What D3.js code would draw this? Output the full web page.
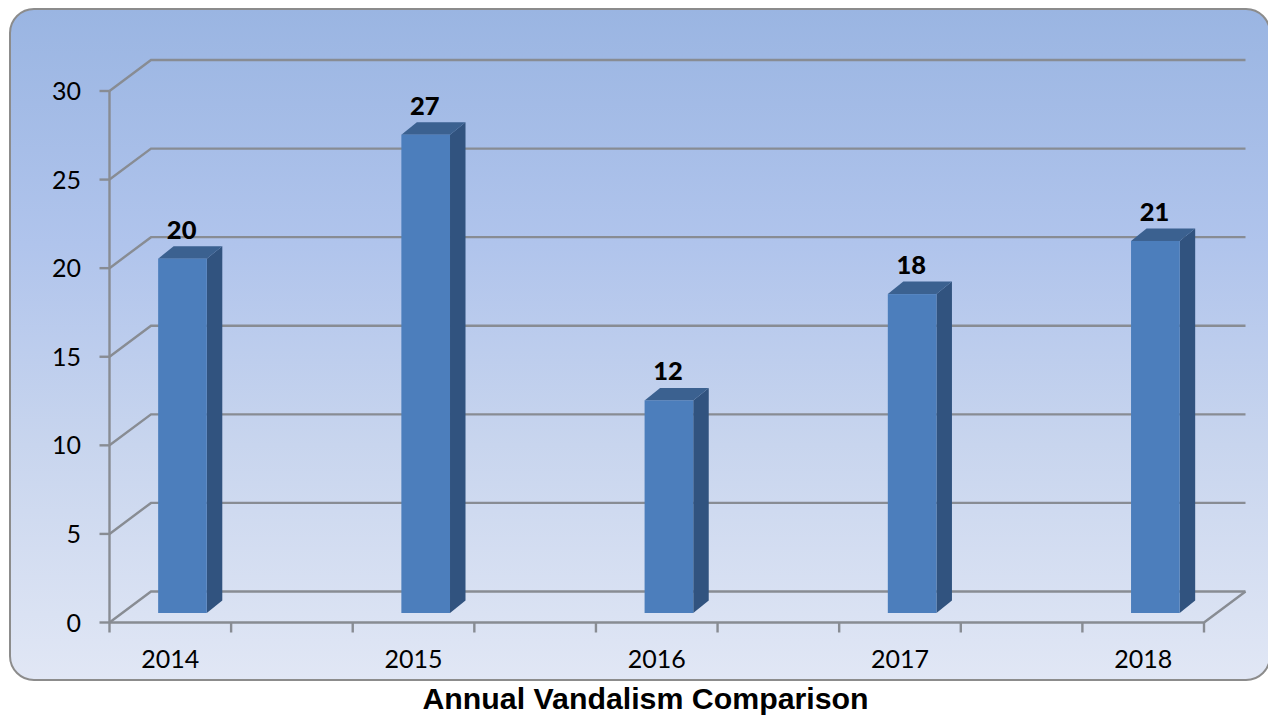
<!DOCTYPE html>
<html><head><meta charset="utf-8">
<script src="https://cdn.jsdelivr.net/npm/d3@7"></script>
<style>html,body{margin:0;padding:0;background:#fff;overflow:hidden}svg{display:block}</style>
</head><body><svg id="c" width="1268" height="715"></svg>
<script>
const categories = ["2014","2015","2016","2017","2018"];
const values = [20,27,12,18,21];
const yTicks = [0,5,10,15,20,25,30];
const titleText = "Annual Vandalism Comparison";

const svg = d3.select("#c");
const defs = svg.append("defs");
const g = defs.append("linearGradient").attr("id","bg").attr("x1",0).attr("y1",0).attr("x2",0).attr("y2",1);
[[0,"#9ab5e2"],[0.35,"#b0c4ec"],[0.65,"#c8d5ee"],[1,"#e1e7f5"]].forEach(s=>g.append("stop").attr("offset",s[0]).attr("stop-color",s[1]));

const grey = "#888c93";
const labelFont = "Lato, 'Open Sans', sans-serif";
const depth = {x:41.5,y:-31};
const barDepth = {x:15.5,y:-12.5};

svg.append("rect").attr("x",10).attr("y",9).attr("width",1260).attr("height",671).attr("rx",24)
  .attr("fill","url(#bg)").attr("stroke","#8c8c8c").attr("stroke-width",2);

const y = d3.scaleLinear().domain([0,30]).range([622.5,91]);
const slot = d3.scaleLinear().domain([0,9]).range([109.5,1204]);
const barY = v => y(v) - 9.5;

// back wall gridlines and side wall diagonals
const grid = svg.append("g").attr("fill","none").attr("stroke",grey).attr("stroke-width",2.4);
yTicks.forEach(t=>{
  grid.append("path").attr("d",d3.line()([[slot(0),y(t)],[slot(0)+depth.x,y(t)+depth.y],[slot(9)+depth.x,y(t)+depth.y]]));
  grid.append("line").attr("x1",slot(0)-10).attr("x2",slot(0)).attr("y1",y(t)).attr("y2",y(t));
});
// floor edge
grid.append("path").attr("d",d3.line()([[slot(0),y(0)],[slot(9),y(0)],[slot(9)+depth.x,y(0)+depth.y]]));
grid.append("line").attr("x1",slot(0)).attr("x2",slot(0)).attr("y1",y(30)).attr("y2",y(0)+10);
d3.range(1,10).forEach(i=>grid.append("line").attr("x1",slot(i)).attr("x2",slot(i)).attr("y1",y(0)).attr("y2",y(0)+10));

// bars
const bars = svg.append("g");
values.forEach((v,i)=>{
  const x0 = slot(2*i+0.4), x1 = slot(2*i+0.8), top = barY(v), base = barY(0);
  const b = bars.append("g");
  b.append("path").attr("fill","#31537f").attr("d",d3.line()([[x1,top],[x1+barDepth.x,top+barDepth.y],[x1+barDepth.x,base+barDepth.y],[x1,base]])+"Z");
  b.append("path").attr("fill","#3b6190").attr("d",d3.line()([[x0,top],[x0+barDepth.x,top+barDepth.y],[x1+barDepth.x,top+barDepth.y],[x1,top]])+"Z");
  b.append("rect").attr("x",x0).attr("y",top).attr("width",x1-x0).attr("height",base-top).attr("fill","#4c7ebc");
  b.append("text").attr("x",x0+23.5).attr("y",top-20).attr("text-anchor","middle")
    .attr("font-family",labelFont).attr("font-weight",900).attr("font-size",25.5).attr("fill","#000").text(v);
});

// tick labels
svg.append("g").selectAll("text").data(yTicks).join("text")
  .attr("x",81).attr("y",d=>y(d)+9).attr("text-anchor","end")
  .attr("font-family",labelFont).attr("font-size",25).attr("fill","#000").text(d=>d);
svg.append("g").selectAll("text").data(categories).join("text")
  .attr("x",(d,i)=>slot(2*i+0.5)).attr("y",668).attr("text-anchor","middle")
  .attr("font-family",labelFont).attr("font-size",25).attr("fill","#000").text(d=>d);

svg.append("text").attr("x",645.5).attr("y",709).attr("text-anchor","middle")
  .attr("font-family","'Liberation Sans',Arial,sans-serif").attr("font-weight",700).attr("font-size",30.3).attr("fill","#000").text(titleText);
</script></body></html>
